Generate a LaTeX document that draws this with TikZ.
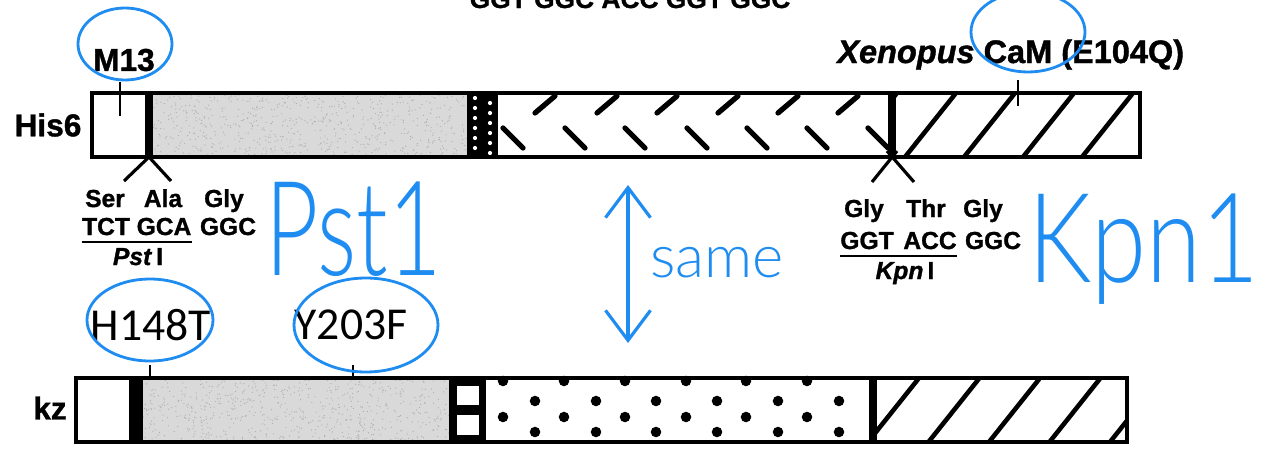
\documentclass[tikz,border=0pt]{standalone}
\usepackage{fontspec}
\usepackage{graphicx}
\setmainfont{Liberation Sans}[BoldFeatures={FakeBold=1.2}, BoldItalicFeatures={FakeBold=1.2}]
\newfontfamily\calfont{Carlito}
\newfontfamily\handfont{Lato Light}
\usetikzlibrary{arrows.meta}
\definecolor{inkblue}{RGB}{30,140,240}
\tikzset{
  lbl/.style={font=\fontsize{14}{16}\selectfont\bfseries, inner sep=0pt, anchor=base},
  biglbl/.style={font=\fontsize{18}{21}\selectfont\bfseries, inner sep=0pt},
  mutlbl/.style={font=\calfont\fontsize{26}{30}\selectfont, inner sep=0pt},
  hand/.style={text=inkblue, inner sep=0pt, anchor=base west},
  ring/.style={inkblue, line width=1.6pt},
  frame/.style={line width=1.8pt},
  wave/.style={line width=3pt, line cap=round},
  hatch/.style={line width=2.6pt},
  tick/.style={line width=1.6pt},
}
\begin{document}
\begin{tikzpicture}[x=0.02cm, y=-0.02cm]
  \useasboundingbox (0,0) rectangle (1268,450);
  \pgfmathsetseed{7}

  % His6 construct
  \fill[gray!30] (152,93) rectangle (467,157);
  \foreach \i in {1,...,700} \fill[gray!65] ({152+rnd*315},{93+rnd*64}) circle (0.35pt);
  \fill (467,93) rectangle (498,157);
  \foreach \i in {0,...,5} {
    \fill[white] (475,{98+\i*10}) circle (1.2pt);
    \fill[white] (490,{103+\i*10}) circle (1.2pt);
  }
  \foreach \x in {535,597,657,718,778,838} \draw[wave] (\x,113) -- ++(20,-17);
  \foreach \x in {503,565,625,687,747,807,868} \draw[wave] (\x,128) -- ++(20,20);
  \begin{scope}
    \clip (892,93) rectangle (1140,157);
    \foreach \k in {-1,...,4} \draw[hatch] ({905+59*\k},157) -- ++(51,-64);
  \end{scope}
  \fill (145,93) rectangle (153,157);
  \draw[line width=4pt] (892,93) -- (892,157);
  \draw[frame] (92,93) rectangle (1140,157);
  \draw[tick] (120,82) -- (120,116);
  \draw[tick] (1018,80) -- (1018,106);
  \draw[line width=1.8pt] (124,181) -- (149,157) -- (171,181);
  \draw[line width=1.8pt] (872,182) -- (897,151);
  \draw[line width=1.8pt] (914,182) -- (887,151);

  \node[biglbl] (his) at (48,125) {His6};
  \node[biglbl] (mthree) at (124,60) {M13};
  \node[biglbl, font=\fontsize{18.5}{21}\selectfont\bfseries, anchor=base west] (cam) at (837,63) {\textit{Xenopus} CaM (E104Q)};
  \node[lbl, font=\fontsize{15}{18}\selectfont\bfseries] (topseq) at (630,8) {GGT GGC ACC GGT GGC};

  % PstI site
  \node[lbl] (ser) at (105,207) {Ser};
  \node[lbl] (ala) at (163,207) {Ala};
  \node[lbl] (glya) at (224,207) {Gly};
  \node[lbl] (tct) at (106,235) {TCT};
  \node[lbl] (gca) at (164,235) {GCA};
  \node[lbl] (ggca) at (228,235) {GGC};
  \draw[line width=1.6pt] ([yshift=-4pt]tct.base west) -- ([yshift=-4pt]gca.base east);
  \node[lbl] (pst) at (138,265) {\textit{Pst}\,I};

  % KpnI site
  \node[lbl] (glyb) at (864,217) {Gly};
  \node[lbl] (thr) at (926,217) {Thr};
  \node[lbl] (glyc) at (983,217) {Gly};
  \node[lbl] (ggt) at (867,249) {GGT};
  \node[lbl] (acc) at (930,249) {ACC};
  \node[lbl] (ggcb) at (993,249) {GGC};
  \draw[line width=1.6pt] ([yshift=-4pt]ggt.base west) -- ([yshift=-4pt]acc.base east);
  \node[lbl] (kpn) at (905,279) {\textit{Kpn}\,I};

  % kz construct
  \fill[gray!30] (143,378) rectangle (449,442);
  \foreach \i in {1,...,700} \fill[gray!65] ({143+rnd*306},{378+rnd*64}) circle (0.35pt);
  \fill (129,378) rectangle (143,442);
  \fill (449,378) rectangle (486,442);
  \fill[white] (457,386) rectangle (479,405);
  \fill[white] (457,415) rectangle (479,435);
  \foreach \x in {503,564,625,686,746,807} {
    \fill (\x,381) circle (3pt);
    \fill (\x,417) circle (3pt);
  }
  \foreach \x in {535,596,656,717,778,839} {
    \fill (\x,401) circle (3pt);
    \fill (\x,432) circle (3pt);
  }
  \begin{scope}
    \clip (873,378) rectangle (1127,442);
    \foreach \k in {0,...,4} \draw[hatch] ({868+60.5*\k},442) -- ++(51,-64);
  \end{scope}
  \draw[line width=4pt] (873,378) -- (873,442);
  \draw[frame] (76,378) rectangle (1127,442);
  \draw[tick] (150,365) -- (150,378);
  \draw[tick] (353,365) -- (353,378);
  \node[biglbl] (kz) at (50,408) {kz};

  \node[mutlbl] (hmut) at (151,325) {H148T};
  \node[mutlbl] (ymut) at (351,325) {Y203F};

  % handwritten notes
  \draw[ring] (125,44) ellipse [x radius=47, y radius=36];
  \draw[ring] (1028,32) ellipse [x radius=57, y radius=40];
  \draw[ring] (150,320) ellipse [x radius=63, y radius=41];
  \draw[ring] (366,325) ellipse [x radius=72, y radius=47];
  \node[hand] (pstnote) at (265,275) {\handfont\fontsize{75}{80}\selectfont\scalebox{0.7}[1]{Pst1}};
  \node[hand] (samenote) at (650,277) {\handfont\fontsize{34}{40}\selectfont same};
  \node[hand] (kpnnote) at (1028,282) {\handfont\fontsize{71}{80}\selectfont\scalebox{0.8}[1]{Kpn1}};
  \coordinate (uptip) at (628,185);
  \coordinate (downtip) at (628,343);
  \draw[inkblue, line width=1.8pt, {Straight Barb[length=6mm,width=9mm]}-{Straight Barb[length=6mm,width=9mm]}] (uptip) -- (downtip);
\end{tikzpicture}
\end{document}
